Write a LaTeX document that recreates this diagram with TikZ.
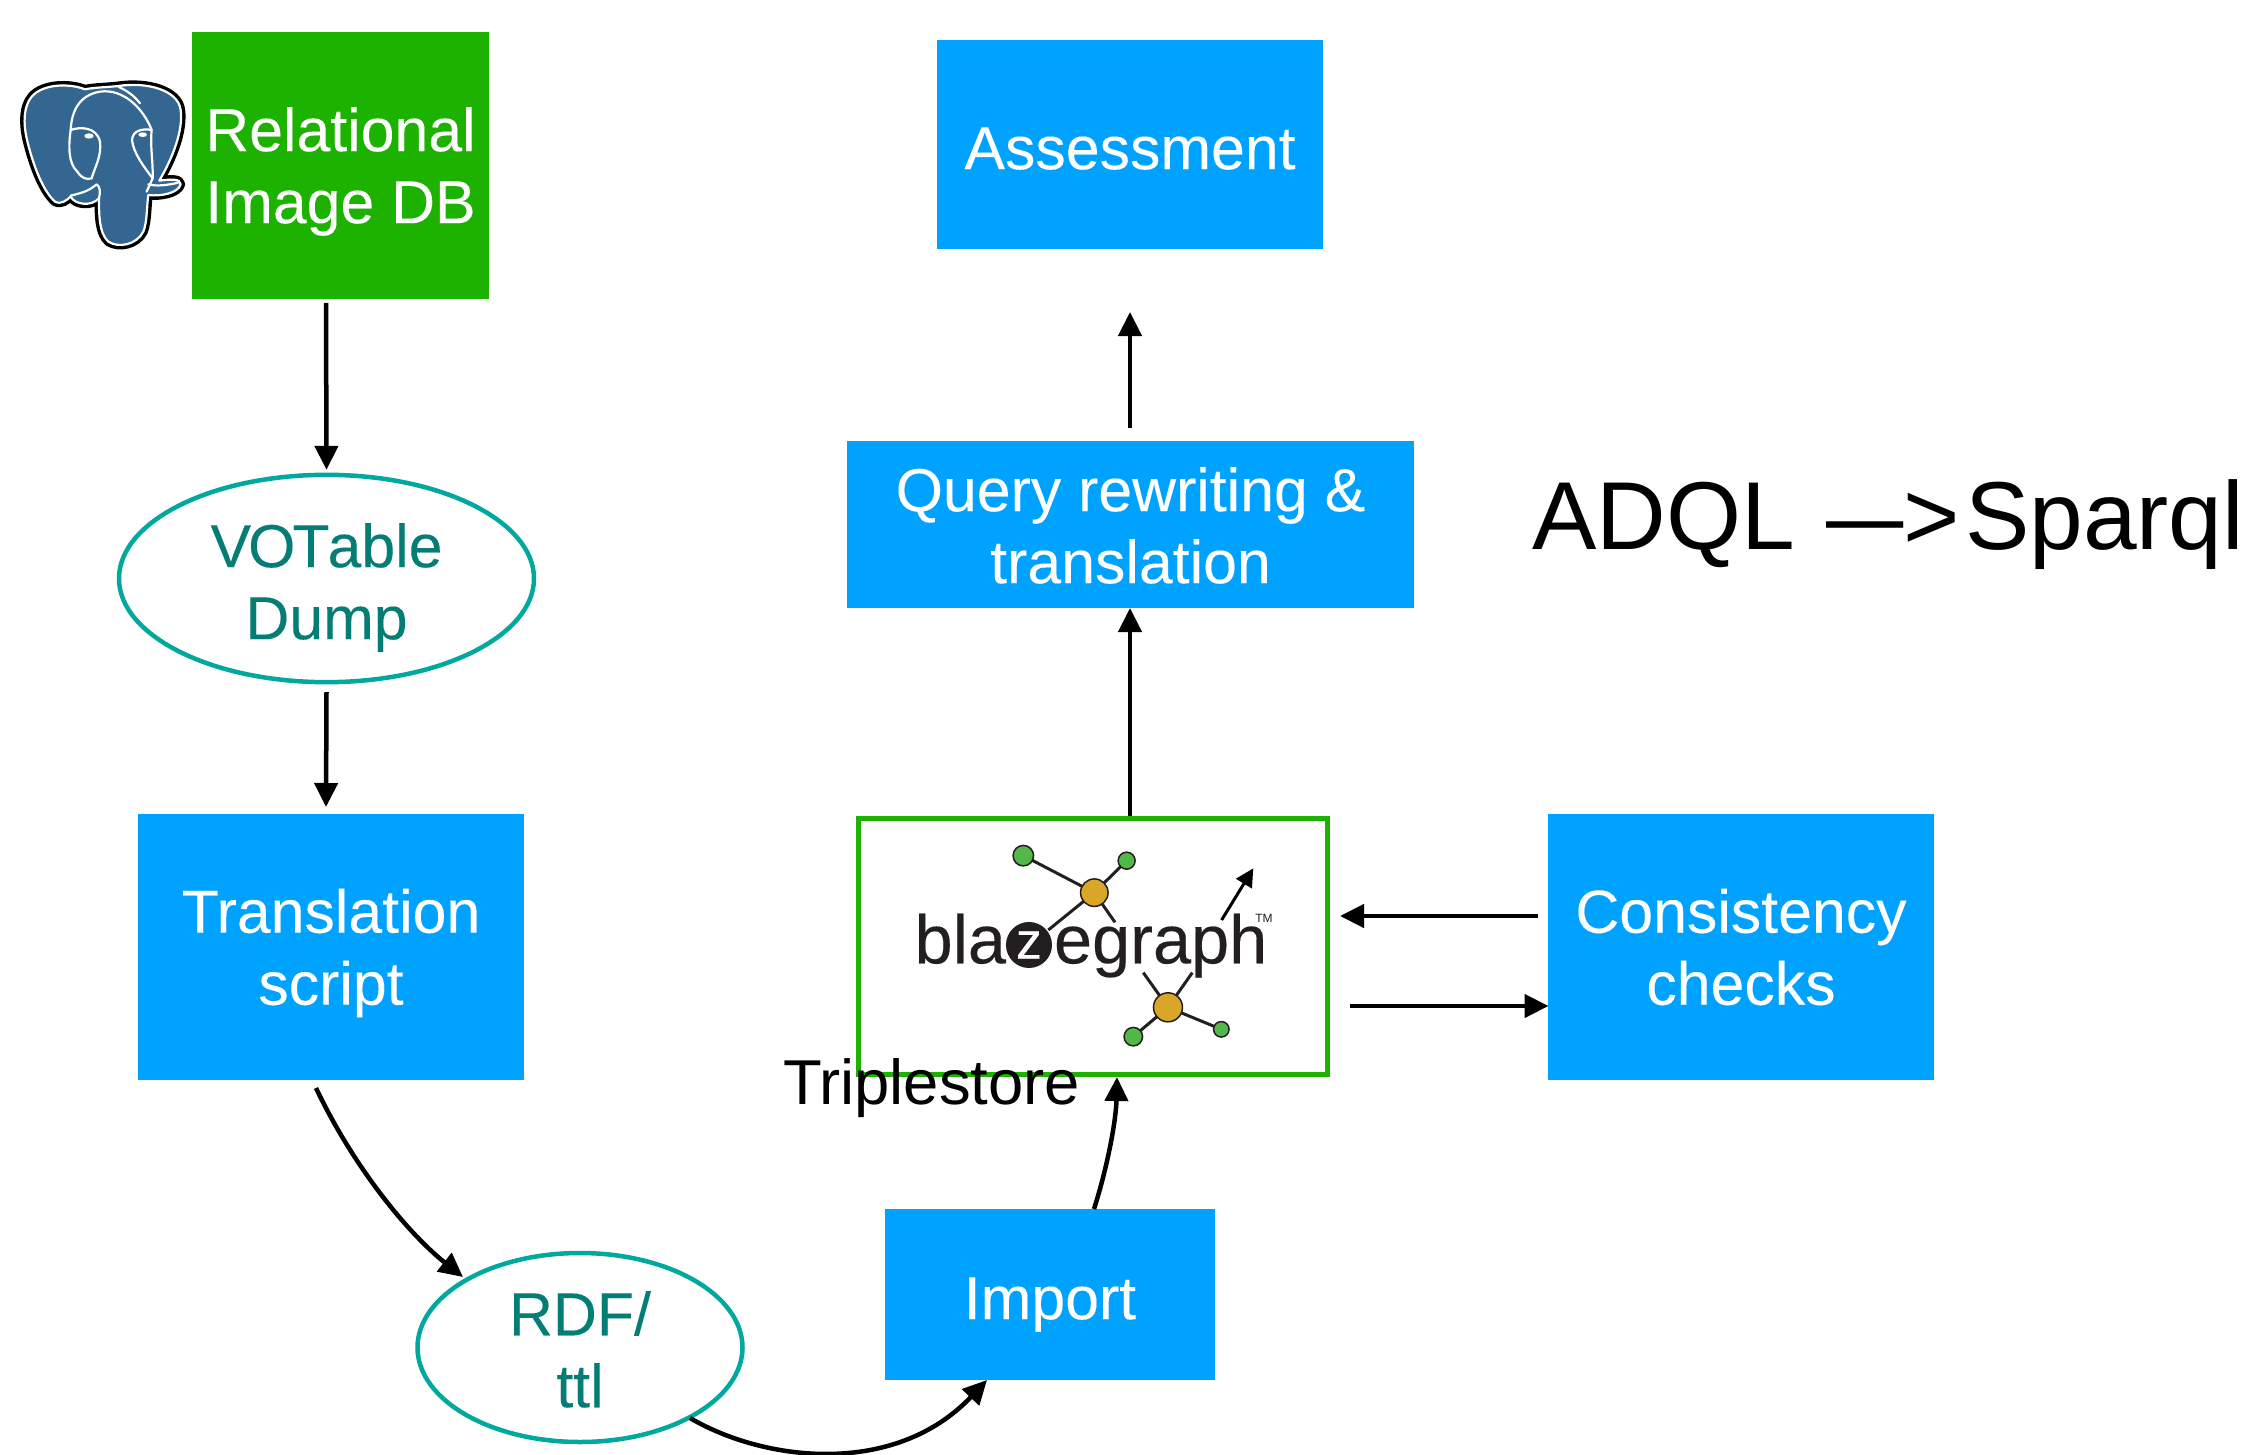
\documentclass[tikz,border=0pt]{standalone}
\usepackage{fontspec}
\setmainfont{Liberation Sans}
\newfontfamily\labelfont[FakeBold=0.12]{Liberation Sans}
\newfontfamily\logofont[FakeBold=0.25]{Liberation Sans}
\usetikzlibrary{arrows.meta,shapes.geometric}
\definecolor{bluebox}{HTML}{00A2FF}
\definecolor{greenbox}{HTML}{1DB100}
\definecolor{tealline}{HTML}{00A89D}
\definecolor{tealtext}{HTML}{047D75}
\definecolor{pgblue}{HTML}{336791}
\definecolor{logoink}{HTML}{231F20}
\definecolor{logogreen}{HTML}{52B848}
\definecolor{logoorange}{HTML}{DAA628}
\newcommand{\lowerby}[1]{\rule{0pt}{\dimexpr 44pt+2\dimexpr #1pt\relax\relax}}
\tikzset{
  lbl/.style={font=\labelfont\fontsize{60.8}{72}\selectfont,align=center,inner sep=0pt,outer sep=0pt},
  bluerect/.style={lbl,rectangle,fill=bluebox,text=white},
  greenrect/.style={lbl,rectangle,fill=greenbox,text=white},
  storebox/.style={rectangle,draw=greenbox,line width=5pt,inner sep=0pt,outer sep=0pt},
  oval/.style={lbl,ellipse,draw=tealline,line width=4.5pt,text=tealtext},
  conn/.style={draw=black,line width=4.5pt,-{Triangle[length=24pt,width=23pt]}},
  blackwords/.style={inner sep=0pt,outer sep=0pt,text=black},
  logotext/.style={inner sep=0pt,outer sep=0pt,text=logoink,font=\logofont\fontsize{68.5}{68}\selectfont},
  logoline/.style={draw=logoink,line width=3pt},
  logogreendot/.style={circle,fill=logogreen,draw=logoink,line width=1.5pt,inner sep=0pt,outer sep=0pt},
  logoorangedot/.style={circle,fill=logoorange,draw=logoink,line width=1.5pt,inner sep=0pt,outer sep=0pt},
  elewhite/.style={draw=white,line width=2.2pt,line join=round,line cap=round},
}
\begin{document}
\begin{tikzpicture}[x=1pt,y=-1pt]
\useasboundingbox (0,0) rectangle (2254,1455);

% boxes
\node[greenrect,minimum width=297pt,minimum height=267pt] (rel) at (340.5,165.5) {\lowerby{6}Relational\\Image DB};
\node[bluerect,minimum width=386pt,minimum height=209pt] (assess) at (1130,144.5) {\lowerby{3}Assessment};
\node[bluerect,minimum width=567pt,minimum height=167pt] (query) at (1130.5,524.5) {\lowerby{1}Query rewriting \&\\translation};
\node[bluerect,minimum width=386pt,minimum height=266pt] (trans) at (331,947) {\lowerby{6}Translation\\script};
\node[bluerect,minimum width=386pt,minimum height=266pt] (cons) at (1741,947) {Consistency\\checks};
\node[bluerect,minimum width=330pt,minimum height=171pt] (import) at (1050,1294.5) {\lowerby{9}Import};
\node[storebox,minimum width=469pt,minimum height=256pt] (store) at (1093,946.5) {};
\node[oval,minimum width=415pt,minimum height=200pt] (vot) at (326.5,578.5) {\lowerby{9}V\kern-3ptO\kern-3ptT\kern-2ptable\\Dump};
\node[oval,minimum width=325pt,minimum height=189pt] (rdf) at (580,1347.5) {\lowerby{2}RDF/\\ttl};

% free texts
\node[blackwords,anchor=base west,font=\fontsize{63.4}{70}\selectfont] (triple) at (783,1104) {Triplestore};
\node[blackwords,anchor=base west,font=\fontsize{96.5}{100}\selectfont] (adql) at (1532,549) {ADQL\kern5pt{} \scalebox{0.8}[1]{—}>\kern5pt{}Sparql};

% connectors
\draw[conn] ([shift={(-14.5,4)}]rel.south) -- ([shift={(0,-5)}]vot.north);
\draw[conn] ([shift={(0,10)}]vot.south) -- ([shift={(-5,-7)}]trans.north);
\draw[conn] ([shift={(-15,8)}]trans.south) .. controls (355,1170) and (410,1235) .. ([shift={(-117,-70.5)}]rdf.center);
\draw[conn] ([shift={(110,70.5)}]rdf.center) .. controls (765,1462) and (895,1477) .. ([shift={(-63,0)}]import.south);
\draw[conn] ([shift={(44,0)}]import.north) .. controls (1108,1165) and (1116,1120) .. ([shift={(24,2.5)}]store.south);
\draw[conn] ([shift={(37,-2.5)}]store.north) -- ([shift={(-0.5,0)}]query.south);
\draw[conn] ([shift={(-0.5,-13)}]query.north) -- ([shift={(0,63)}]assess.south);
\draw[conn] ([shift={(-10.5,-31)}]cons.west) -- ([shift={(12.5,-30.5)}]store.east);
\draw[conn] ([shift={(22.5,59.5)}]store.east) -- ([shift={(0.5,59)}]cons.west);

% PostgreSQL elephant (coordinates of a 3x crop)
\begin{scope}[shift={(0,50)},x=0.3333pt,y=-0.3333pt]
  \def\eleoutline{(255,118) .. controls (210,100) and (130,100) .. (95,140)
     .. controls (70,170) and (70,220) .. (80,265)
     .. controls (95,330) and (125,420) .. (165,455)
     .. controls (185,465) and (200,450) .. (212,440)
     .. controls (225,465) and (275,470) .. (297,445)
     .. controls (297,500) and (298,550) .. (325,575)
     .. controls (355,595) and (410,585) .. (430,545)
     .. controls (442,515) and (440,470) .. (445,435)
     .. controls (480,440) and (535,430) .. (542,403)
     .. controls (542,385) and (510,388) .. (478,392)
     .. controls (520,320) and (550,240) .. (542,180)
     .. controls (535,120) and (440,95) .. (355,108)
     .. controls (320,112) and (285,112) .. (255,118) -- cycle}
  \draw[black,line width=9pt,line join=round] \eleoutline;
  \fill[pgblue] \eleoutline;
  \draw[elewhite] \eleoutline;
  % head
  \draw[elewhite] (232,365) .. controls (205,340) and (205,290) .. (212,240)
     .. controls (215,180) and (240,135) .. (300,125)
     .. controls (370,115) and (430,175) .. (455,240)
     .. controls (450,290) and (460,340) .. (458,385);
  \draw[elewhite] (355,110) .. controls (385,125) and (400,135) .. (420,160);
  % left eye lobe
  \draw[elewhite] (212,240) .. controls (240,230) and (290,230) .. (300,275)
     .. controls (305,320) and (285,350) .. (275,385);
  \draw[elewhite] (232,365) .. controls (245,385) and (260,390) .. (275,385);
  % right eye lobe
  \draw[elewhite] (455,240) .. controls (430,235) and (398,240) .. (396,270)
     .. controls (400,310) and (435,355) .. (458,385);
  \draw[elewhite] (458,385) -- (440,425);
  % tusks
  \draw[elewhite] (212,437) .. controls (240,430) and (265,425) .. (290,403)
     .. controls (300,410) and (302,425) .. (297,445);
  \draw[elewhite] (445,403) .. controls (470,410) and (505,405) .. (535,398);
  % eyes
  \fill[white] (267,258) ellipse (14 and 8);
  \fill[white] (428,254) ellipse (13 and 7);
\end{scope}

% blazegraph logo (coordinates of a 3x crop)
\begin{scope}[shift={(850,810)},x=0.3333pt,y=-0.3333pt]
  \draw[logoline] (520,137) -- (733,248);
  \draw[logoline] (830,152) -- (733,248);
  \draw[logoline] (733,248) -- (595,360);
  \draw[logoline] (733,248) -- (795,337);
  \draw[logoline] (954,592) -- (850,680);
  \draw[logoline] (954,592) -- (1114,658);
  \draw[logoline] (954,592) -- (880,488);
  \draw[logoline] (954,592) -- (1027,488);
  \node[logogreendot,minimum size=20.5pt] (g1) at (520,137) {};
  \node[logogreendot,minimum size=17pt] (g2) at (830,152) {};
  \node[logoorangedot,minimum size=27.5pt] (o1) at (733,248) {};
  \node[logoorangedot,minimum size=29pt] (o2) at (954,592) {};
  \node[logogreendot,minimum size=18.5pt] (g3) at (850,680) {};
  \node[logogreendot,minimum size=15.5pt] (g4) at (1114,658) {};
  \node[logotext,anchor=base east] (bla) at (468,460) {bla};
  \node[circle,fill=logoink,minimum size=46pt,inner sep=0pt,outer sep=0pt,text=white,font=\logofont\fontsize{52}{52}\selectfont] (zed) at (537,405) {z};
  \node[logotext,anchor=base west] (egraph) at (612,460) {egraph};
  \node[logotext,anchor=base west,font=\fontsize{12}{12}\selectfont] (tm) at (1216,337) {TM};
  \coordinate (arrowfoot) at (1115,330);
  \coordinate (arrowhead) at (1210,175);
  \draw[draw=black,line width=3pt,-{Triangle[length=18pt,width=18pt]}] (arrowfoot) -- (arrowhead);
\end{scope}
\end{tikzpicture}
\end{document}
